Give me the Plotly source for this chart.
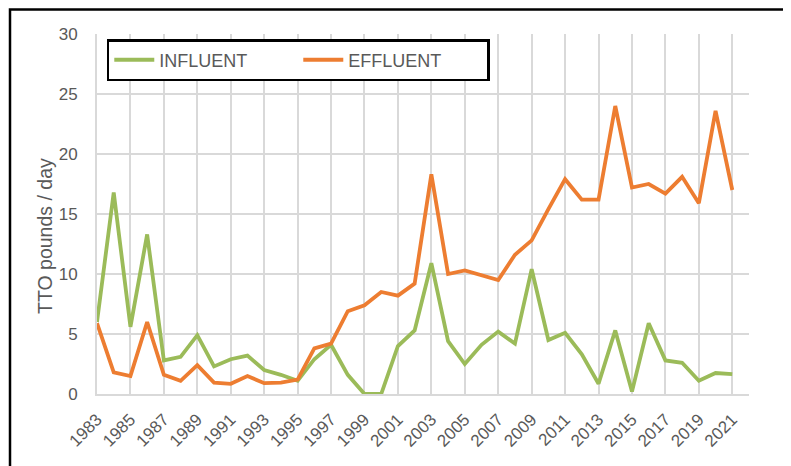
import plotly.graph_objects as go

years = list(range(1983, 2022))
influent = [6.0, 16.8, 5.6, 13.3, 2.8, 3.1, 4.9, 2.3, 2.9, 3.2, 2.0, 1.6, 1.1,
            2.9, 4.1, 1.6, 0.0, 0.0, 4.0, 5.3, 10.9, 4.4, 2.5, 4.1, 5.2, 4.2,
            10.4, 4.5, 5.1, 3.3, 0.85, 5.3, 0.2, 5.9, 2.8, 2.6, 1.1, 1.75, 1.65]
effluent = [5.9, 1.8, 1.5, 6.0, 1.6, 1.1, 2.4, 0.95, 0.85, 1.5, 0.9, 0.95, 1.2,
            3.8, 4.2, 6.9, 7.4, 8.5, 8.2, 9.2, 18.3, 10.0, 10.3, 9.9, 9.5, 11.6,
            12.8, 15.4, 17.9, 16.2, 16.2, 24.0, 17.2, 17.5, 16.7, 18.1, 15.9, 23.6, 17.0]
xticks = list(range(1983, 2022, 2))
yticks = [0, 5, 10, 15, 20, 25, 30]
ytitle = "TTO pounds / day"

GREEN = "#9BBB59"
ORANGE = "#ED7D31"
GRID = "#D9D9D9"
TXT = "#595959"
FONT = "Liberation Sans, Arial, sans-serif"

fig = go.Figure()
fig.add_trace(go.Scatter(x=years, y=influent, mode="lines", name="INFLUENT",
                         line=dict(color=GREEN, width=3.8)))
fig.add_trace(go.Scatter(x=years, y=effluent, mode="lines", name="EFFLUENT",
                         line=dict(color=ORANGE, width=3.8)))

fig.update_layout(
    width=791, height=466,
    margin=dict(l=89, r=50, t=26, b=80),
    paper_bgcolor="white", plot_bgcolor="white",
    font=dict(family=FONT, color=TXT, size=16),
    showlegend=True,
    legend=dict(orientation="h", x=0.015, y=0.986, xanchor="left", yanchor="top",
                bgcolor="white", bordercolor="black", borderwidth=2.5,
                font=dict(size=18, color=TXT), entrywidth=134,
                itemwidth=40),
    xaxis=dict(range=[1983, 2022], tickmode="array", tickvals=xticks,
               ticktext=[str(t) for t in xticks], tickangle=-45,
               showgrid=True, gridcolor=GRID, gridwidth=2,
               showline=True, linecolor=GRID, linewidth=2,
               zeroline=False, tickfont=dict(size=17, color=TXT),
               ticks="", ticklabelstandoff=7, automargin=False),
    yaxis=dict(range=[0, 30], tickmode="array", tickvals=yticks,
               showgrid=True, gridcolor=GRID, gridwidth=2,
               showline=True, linecolor=GRID, linewidth=2,
               zeroline=False, tickfont=dict(size=17, color=TXT),
               ticks="", ticklabelstandoff=14, automargin=False),
    annotations=[dict(text=ytitle, xref="paper", yref="paper",
                      x=-52 / 652, y=158 / 360, xanchor="center", yanchor="middle",
                      textangle=-90, showarrow=False,
                      font=dict(size=19.5, color=TXT, family=FONT))],
    shapes=[dict(type="rect", xref="paper", yref="paper",
                 x0=-87 / 652, x1=1.3, y0=-0.6, y1=384.5 / 360,
                 line=dict(color="black", width=2.5), layer="below")],
)

fig.write_html("out.html")
